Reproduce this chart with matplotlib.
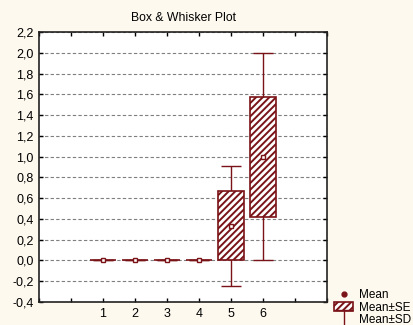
import matplotlib
matplotlib.use("Agg")
import matplotlib.pyplot as plt
from matplotlib.lines import Line2D
from matplotlib.patches import Patch
from matplotlib.path import Path
from matplotlib.ticker import FuncFormatter, MultipleLocator

# data
groups = [1, 2, 3, 4, 5, 6]
means = [0.0, 0.0, 0.0, 0.0, 0.333, 1.0]
se = [0.0, 0.0, 0.0, 0.0, 0.333, 0.577]
sd = [0.0, 0.0, 0.0, 0.0, 0.577, 1.0]

red = '#7a1318'
plt.rcParams['font.family'] = ['Liberation Sans', 'DejaVu Sans']
plt.rcParams['hatch.color'] = red
plt.rcParams['hatch.linewidth'] = 1.4

fig = plt.figure(figsize=(4.14, 3.25), dpi=100, facecolor='#fdf9ef')
ax = fig.add_axes([0.0942, 0.0708, 0.6957, 0.8307])
ax.set_facecolor('white')

# whiskers (mean +- SD)
ax.errorbar(groups, means, yerr=sd, fmt='none', ecolor=red, elinewidth=1.0,
            capsize=7.5, capthick=1.0, zorder=2)
# boxes (mean +- SE)
bottoms = [m - s for m, s in zip(means, se)]
heights = [2 * s for s in se]
ax.bar(groups, heights, bottom=bottoms, width=0.8, facecolor='white',
       edgecolor=red, linewidth=1.2, hatch='/////', zorder=3)
# means
ax.plot(groups, means, ls='none', marker='s', ms=3.2, mfc='white', mec=red,
        mew=1.0, zorder=4)

ax.set_xlim(-1, 8)
ax.set_ylim(-0.4, 2.2)
ax.set_xticks(range(-1, 9))
ax.set_xticklabels(['' if (i < 1 or i > 6) else str(i) for i in range(-1, 9)])
ax.yaxis.set_major_locator(MultipleLocator(0.2))
ax.yaxis.set_major_formatter(FuncFormatter(lambda v, p: f'{v:.1f}'.replace('.', ',')))
ax.tick_params(direction='in', length=3, width=1, labelsize=9, top=True,
               right=True, pad=4, colors='black')
ax.grid(axis='y', color='#7f7f7f', ls=(0, (3, 2)), lw=0.8, zorder=0)
for s in ax.spines.values():
    s.set_linewidth(1.2)
    s.set_color('#222222')

ax.set_title('Box & Whisker Plot', fontsize=8.8, pad=8)

# legend symbol for mean +- SD
tee = Path([(-1, 1), (1, 1), (0, 1), (0, -1)],
           [Path.MOVETO, Path.LINETO, Path.MOVETO, Path.LINETO])
handles = [
    Line2D([], [], ls='none', marker='o', ms=3.5, color=red),
    Patch(facecolor='white', edgecolor=red, hatch='/////', linewidth=1.2),
    Line2D([], [], ls='none', marker=tee, ms=13, mew=1.0, color=red),
]
fig.legend(handles, ['Mean', 'Mean±SE', 'Mean±SD'], loc='lower left',
           bbox_to_anchor=(0.788, -0.03), frameon=False, fontsize=8.5,
           handlelength=1.6, handleheight=0.8, handletextpad=0.45,
           labelspacing=0.05, borderpad=0.2)

fig.savefig('out.png', dpi=100, facecolor=fig.get_facecolor())
